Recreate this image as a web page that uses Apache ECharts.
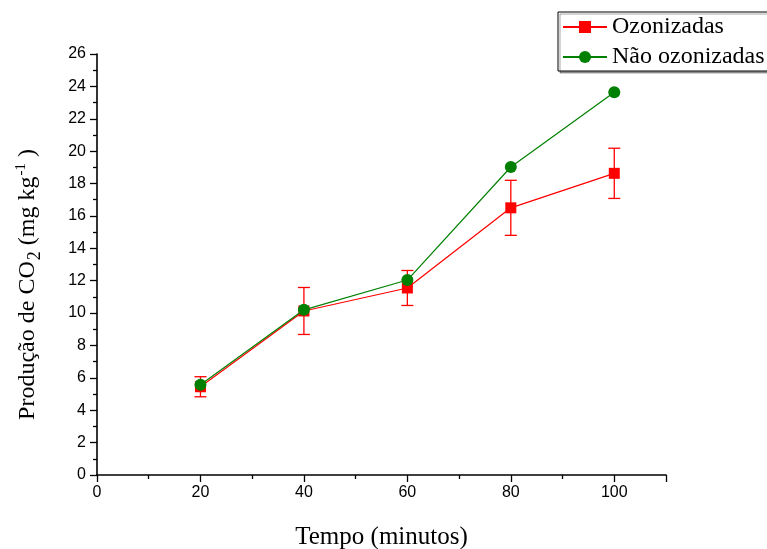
<!DOCTYPE html>
<html>
<head>
<meta charset="utf-8">
<script src="https://cdn.jsdelivr.net/npm/echarts@6/dist/echarts.min.js"></script>
<style>
  html, body { margin: 0; padding: 0; background: #fff; }
  #chart { width: 767px; height: 549px; }
</style>
</head>
<body>
<div id="chart"></div>
<script>
// Time points (minutes)
const tempo = [20, 40, 60, 80, 100];
// CO2 production, ozonized samples, with standard deviation
const ozonizadas = [5.45, 10.13, 11.55, 16.5, 18.63];
const ozonizadasErro = [0.62, 1.45, 1.08, 1.7, 1.55];
// CO2 production, non-ozonized samples
const naoOzonizadas = [5.58, 10.2, 12.04, 19.02, 23.64];

const serif = '"Liberation Serif", "Times New Roman", serif';
const sans = '"Liberation Sans", Arial, sans-serif';

const chart = echarts.init(document.getElementById('chart'));

const errorData = tempo.map((t, i) => [t, ozonizadas[i] - ozonizadasErro[i], ozonizadas[i] + ozonizadasErro[i]]);

chart.setOption({
  animation: false,
  backgroundColor: '#ffffff',
  grid: { left: 97, right: 101, top: 54, bottom: 74, outerBoundsMode: 'none', containLabel: false },
  legend: {
    orient: 'vertical',
    left: 558,
    top: 12,
    padding: [3, 40, 2, 4],
    itemGap: 6,
    itemWidth: 44,
    itemHeight: 15,
    borderColor: '#000',
    borderWidth: 1,
    shadowColor: 'rgba(0,0,0,0.35)',
    shadowOffsetX: 2,
    shadowOffsetY: 2,
    backgroundColor: '#fff',
    textStyle: { fontFamily: serif, fontSize: 24, color: '#000', padding: [2, 0, 0, 0] },
    data: ['Ozonizadas', 'Não ozonizadas']
  },
  xAxis: {
    type: 'value',
    min: 0,
    max: 110,
    interval: 20,
    name: 'Tempo (minutos)',
    nameLocation: 'middle',
    nameGap: 50,
    nameTextStyle: { fontFamily: serif, fontSize: 25, color: '#000' },
    axisLine: { show: true, onZero: false, lineStyle: { color: '#000', width: 1.6 } },
    axisTick: { show: true, inside: false, length: 7, lineStyle: { color: '#000', width: 1.3 } },
    minorTick: { show: true, splitNumber: 2, length: 4, lineStyle: { color: '#000', width: 1.3 } },
    axisLabel: { fontFamily: sans, fontSize: 16, color: '#000', margin: 10, showMaxLabel: false },
    splitLine: { show: false }
  },
  yAxis: {
    type: 'value',
    min: 0,
    max: 26,
    interval: 2,
    name: '{a|Produção de CO}{sub|2}{a| (mg kg}{sup|-1}{a|)}',
    nameLocation: 'middle',
    nameGap: 54,
    nameRotate: 90,
    nameTextStyle: {
      color: '#000',
      padding: [0, 40, 0, 0],
      rich: {
        a: { fontFamily: serif, fontSize: 24, color: '#000', lineHeight: 30 },
        sub: { fontFamily: serif, fontSize: 18, color: '#000', padding: [14, 0, 0, 1], lineHeight: 30 },
        sup: { fontFamily: serif, fontSize: 15, color: '#000', padding: [0, 6, 14, 1], lineHeight: 30 }
      }
    },
    axisLine: { show: true, onZero: false, lineStyle: { color: '#000', width: 1.6 } },
    axisTick: { show: true, inside: false, length: 7, lineStyle: { color: '#000', width: 1.3 } },
    minorTick: { show: true, splitNumber: 2, length: 4, lineStyle: { color: '#000', width: 1.3 } },
    axisLabel: { fontFamily: sans, fontSize: 16, color: '#000', margin: 11 },
    splitLine: { show: false }
  },
  series: [
    {
      type: 'custom',
      name: 'erro',
      z: 1,
      renderItem: function (params, api) {
        const x = api.value(0);
        const lo = api.coord([x, api.value(1)]);
        const hi = api.coord([x, api.value(2)]);
        const w = 6;
        const style = { stroke: '#ff0000', lineWidth: 1.3 };
        return {
          type: 'group',
          children: [
            { type: 'line', shape: { x1: hi[0], y1: hi[1], x2: lo[0], y2: lo[1] }, style: style },
            { type: 'line', shape: { x1: hi[0] - w, y1: hi[1], x2: hi[0] + w, y2: hi[1] }, style: style },
            { type: 'line', shape: { x1: lo[0] - w, y1: lo[1], x2: lo[0] + w, y2: lo[1] }, style: style }
          ]
        };
      },
      encode: { x: 0, y: [1, 2] },
      data: errorData
    },
    {
      type: 'line',
      name: 'Ozonizadas',
      z: 3,
      data: tempo.map((t, i) => [t, ozonizadas[i]]),
      symbol: 'rect',
      symbolSize: 11,
      itemStyle: { color: '#ff0000' },
      lineStyle: { color: '#ff0000', width: 1.2 }
    },
    {
      type: 'line',
      name: 'Não ozonizadas',
      z: 4,
      data: tempo.map((t, i) => [t, naoOzonizadas[i]]),
      symbol: 'circle',
      symbolSize: 12,
      itemStyle: { color: '#008000' },
      lineStyle: { color: '#008000', width: 1.2 }
    }
  ]
});
</script>
</body>
</html>
